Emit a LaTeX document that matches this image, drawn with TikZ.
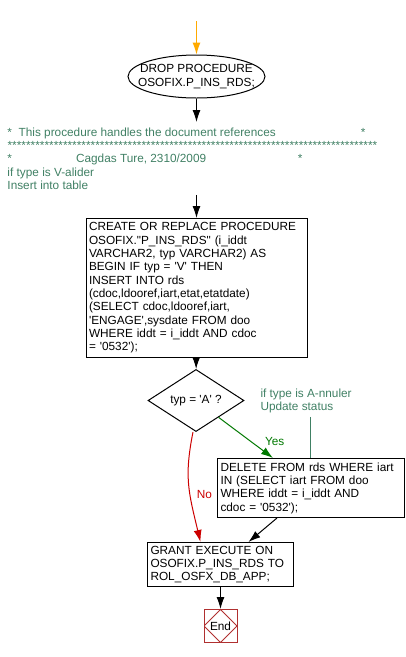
\documentclass[tikz,border=0pt]{standalone}
\usepackage{fontspec}
\setmainfont{Liberation Sans}[Ligatures=TeXOff]
\usepackage{xcolor}
\usetikzlibrary{arrows.meta,shapes.geometric,positioning}

\definecolor{cmtgreen}{RGB}{64,128,100}
\definecolor{yesgreen}{RGB}{0,120,0}
\definecolor{nored}{RGB}{204,0,0}
\definecolor{endred}{RGB}{176,48,48}
\definecolor{startorange}{RGB}{255,170,0}

\begin{document}
\begin{tikzpicture}[x=1pt,y=-1pt,line width=1pt,
	every node/.style={font=\fontsize{11.8}{13.33}\selectfont},
	procbox/.style={draw,rectangle,align=left,anchor=north west,inner xsep=3pt,inner ysep=0pt},
	decide/.style={draw,diamond,minimum width=96pt,minimum height=37pt,inner sep=0pt},
	startell/.style={draw,ellipse,minimum width=137pt,minimum height=43pt,inner xsep=-11pt,inner ysep=2pt,align=center},
	endbox/.style={draw=endred,rectangle,minimum size=33pt,inner sep=0pt,
		path picture={\draw[endred] (path picture bounding box.north) -- (path picture bounding box.east)
			-- (path picture bounding box.south) -- (path picture bounding box.west) -- cycle;}},
	cmttext/.style={text=cmtgreen,align=left,anchor=north west,inner xsep=0pt,inner ysep=5pt}
	]
		\useasboundingbox (0,0) rectangle (406,657);

		\coordinate (S) at (196.5,21);
		\node[startell] (A) at (196.5,76.5) {DROP PROCEDURE\\OSOFIX.P\_INS\_RDS;};

		\node[cmttext] (K) at (7,122) {\hbox to 358pt{*\ \ This procedure handles the document references\hfill*}\\
			\hbox to 370pt{\xleaders\hbox{*}\hfill}\\
			\hbox to 295pt{*\hspace{64pt}Cagdas Ture, 2310/2009\hfill*}\\
			if type is V-alider\\
			Insert into table};

		\node[procbox,text width=215pt,minimum height=139pt] (B) at (85.5,218) {CREATE OR REPLACE PROCEDURE\\
			OSOFIX."P\_INS\_RDS" (i\_iddt\\
			VARCHAR2, typ VARCHAR2) AS\\
			BEGIN IF typ = 'V' THEN\\
			INSERT INTO rds\\
			(cdoc,ldooref,iart,etat,etatdate)\\
			(SELECT cdoc,ldooref,iart,\\
			'ENGAGE',sysdate FROM doo\\
			WHERE iddt = i\_iddt AND cdoc\\
			= '0532');};

		\node[decide] (C) at (196,400.5) {typ = 'A' ?};

		\node[cmttext,inner ysep=3pt] (N) at (260,385.5) {if type is A-nnuler\\Update status};

		\node[procbox,text width=181pt,minimum height=59pt] (D) at (217,458) {DELETE FROM rds WHERE iart\\
			IN (SELECT iart FROM doo\\
			WHERE iddt = i\_iddt AND\\
			cdoc = '0532');};

		\node[procbox,text width=140pt,minimum height=44pt] (E) at (147,542) {GRANT EXECUTE ON\\
			OSOFIX.P\_INS\_RDS TO\\
			ROL\_OSFX\_DB\_APP;};

		\node[endbox] (F) at (220.5,626) {End};
		%
		\path[->,>={Latex[length=12pt,width=8pt]}]
			(S) edge[draw=startorange] (A)
			(A) edge (A |- K.north)
			(A |- K.south) edge (B)
			(B) edge (C)
			(C) edge[draw=yesgreen] node[pos=.6,right=10pt,text=yesgreen] {Yes} ([xshift=-38pt]D.north)
			([xshift=-34pt]D.south) edge ([xshift=28pt]E.north)
			(E) edge (F);

		\draw[->,>={Latex[length=12pt,width=8pt]},nored] ([xshift=-3pt]C.south) .. controls +(-9,45) and +(-12,-50) .. ([xshift=-20pt]E.north)
			node[pos=.6,right=3pt] {No};

		\draw[cmtgreen] ([xshift=4pt]N.south) -- ([xshift=4pt]N.south |- D.north);
	\end{tikzpicture}
\end{document}
